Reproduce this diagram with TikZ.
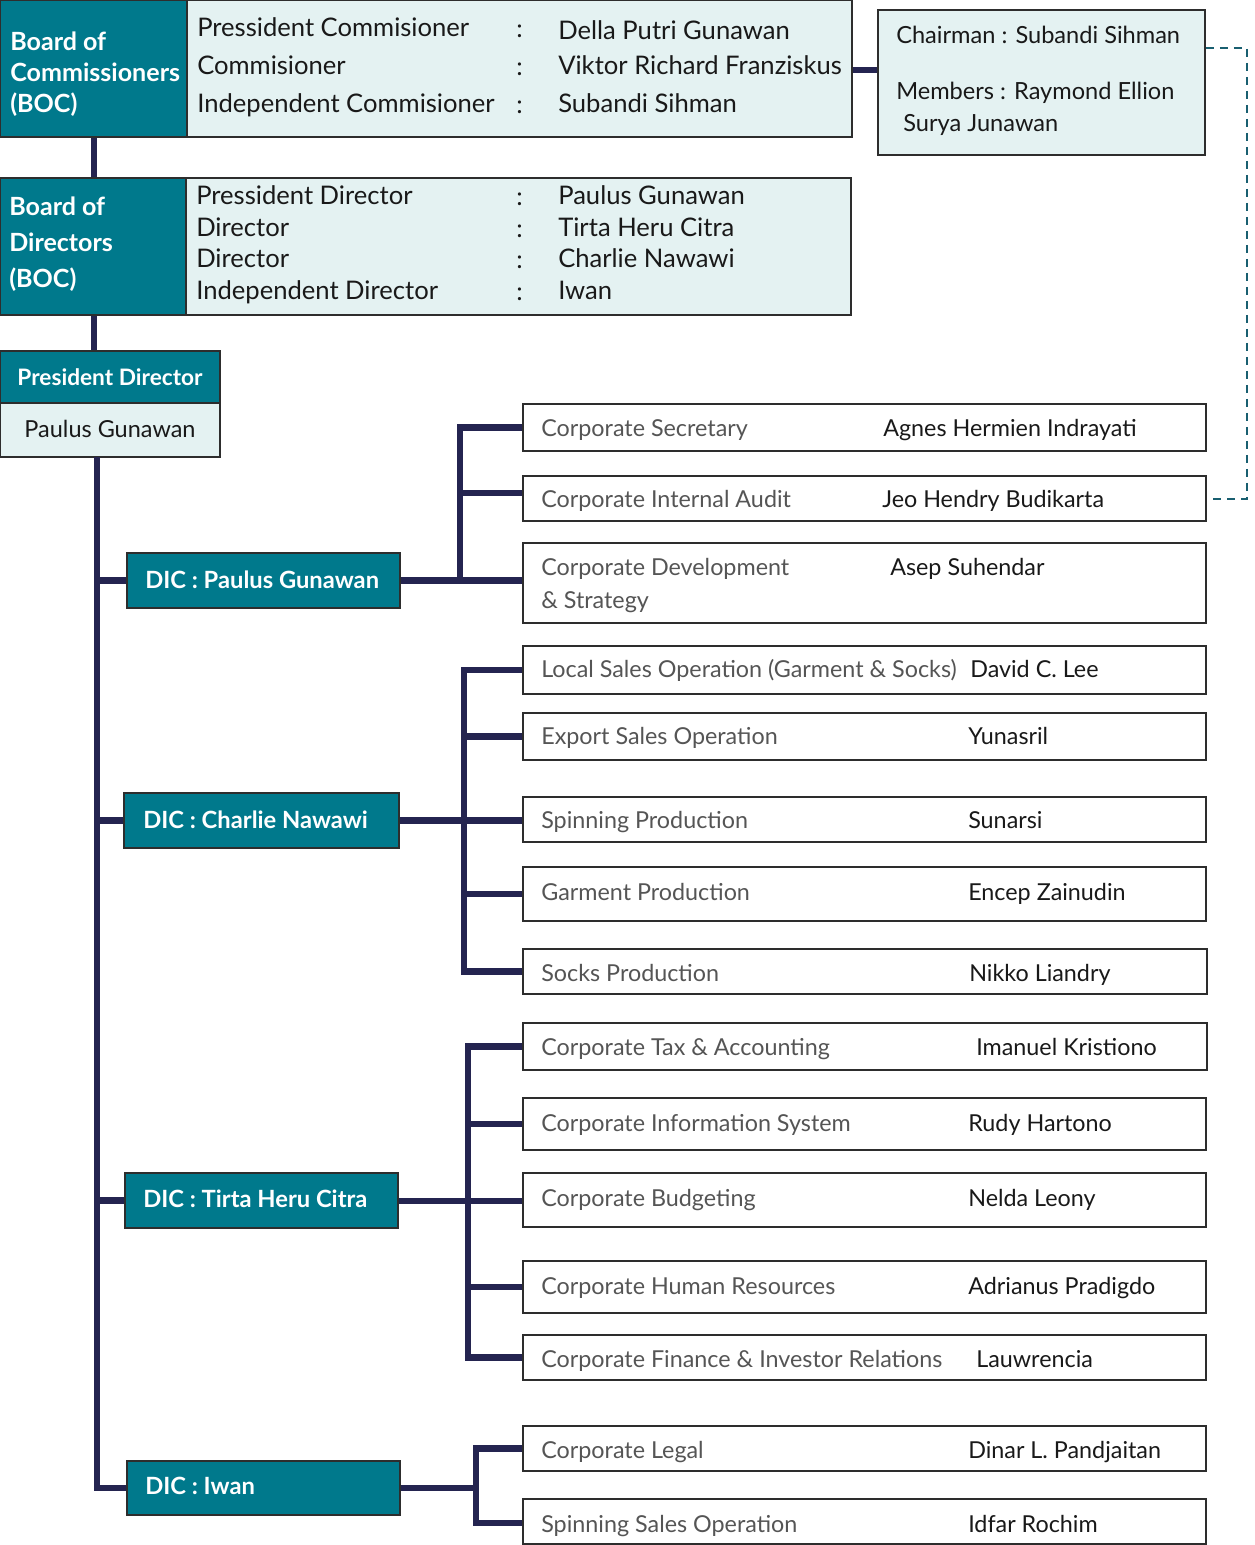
\documentclass[tikz,border=0pt]{standalone}
\usepackage{fontspec}
\setmainfont{Lato}
\usetikzlibrary{fit}
\definecolor{tealc}{RGB}{0,121,140}
\definecolor{lightc}{RGB}{228,242,242}
\definecolor{linec}{RGB}{36,36,80}
\definecolor{borderc}{RGB}{45,45,45}
\definecolor{dashc}{RGB}{25,95,112}
\definecolor{grayt}{RGB}{85,85,85}
\definecolor{darkt}{RGB}{25,25,25}
\tikzset{
  boxbase/.style={inner sep=0pt, draw=borderc, line width=1.3pt},
  tealbox/.style={boxbase, fill=tealc},
  lightbox/.style={boxbase, fill=lightc},
  whitebox/.style={boxbase, fill=white},
  conn/.style={draw=linec, line width=4.6pt},
  dashconn/.style={draw=dashc, line width=1.5pt, dash pattern=on 6pt off 4.5pt},
  rowtxt/.style={anchor=mid west, inner sep=0pt, text=darkt, font=\fontsize{19.2}{23}\selectfont},
  boardtxt/.style={anchor=west, inner sep=0pt, text=white, align=left},
  cmtxt/.style={anchor=mid west, inner sep=0pt, text=darkt, font=\fontsize{17.7}{21}\selectfont},
  dictxt/.style={anchor=west, inner sep=0pt, text=white, font=\bfseries\fontsize{17.8}{21}\selectfont},
  lbl/.style={anchor=mid west, inner sep=0pt, text=grayt, font=\fontsize{17.5}{21}\selectfont},
  nm/.style={anchor=mid west, inner sep=0pt, text=darkt, font=\fontsize{17.5}{21}\selectfont},
}
\begin{document}
\begin{tikzpicture}[x=0.75pt, y=-0.75pt]
\useasboundingbox (0,0) rectangle (1255,1545);

% ---------- Board of Commissioners ----------
\node[tealbox, fit={(0,0) (187,137)}] (bocL) {};
\node[lightbox, fit={(187,0) (852,137)}] (bocR) {};
\node[boardtxt, font=\bfseries\fontsize{18.8}{23.25}\selectfont] (bocT) at (10,74) {Board of\\Commissioners\\(BOC)};
\node[rowtxt] (bc1) at (197,33) {Pressident Commisioner};
\node[rowtxt] (bc1c) at (516,34) {:};
\node[rowtxt] (bc1n) at (558,36) {Della Putri Gunawan};
\node[rowtxt] (bc2) at (197,71) {Commisioner};
\node[rowtxt] (bc2c) at (516,72) {:};
\node[rowtxt] (bc2n) at (558,71) {Viktor Richard Franziskus};
\node[rowtxt] (bc3) at (197,109) {Independent Commisioner};
\node[rowtxt] (bc3c) at (516,110) {:};
\node[rowtxt] (bc3n) at (558,109) {Subandi Sihman};

% ---------- Committee ----------
\node[lightbox, fit={(878,10) (1205,155)}] (cm) {};
\node[cmtxt] (cm1) at (896,40) {Chairman : Subandi Sihman};
\node[cmtxt] (cm2) at (896,96) {Members : Raymond Ellion};
\node[cmtxt] (cm3) at (903,128) {Surya Junawan};

% ---------- Board of Directors ----------
\node[tealbox, fit={(0,178) (186,315)}] (bodL) {};
\node[lightbox, fit={(186,178) (851,315)}] (bodR) {};
\node[boardtxt, font=\bfseries\fontsize{18.8}{27}\selectfont] (bodT) at (9,244) {Board of\\Directors\\(BOC)};
\node[rowtxt] (bd1) at (196,201) {Pressident Director};
\node[rowtxt] (bd1c) at (516,202) {:};
\node[rowtxt] (bd1n) at (558,201) {Paulus Gunawan};
\node[rowtxt] (bd2) at (196,233) {Director};
\node[rowtxt] (bd2c) at (516,234) {:};
\node[rowtxt] (bd2n) at (558,233) {Tirta Heru Citra};
\node[rowtxt] (bd3) at (196,264) {Director};
\node[rowtxt] (bd3c) at (516,265) {:};
\node[rowtxt] (bd3n) at (558,264) {Charlie Nawawi};
\node[rowtxt] (bd4) at (196,296) {Independent Director};
\node[rowtxt] (bd4c) at (516,297) {:};
\node[rowtxt] (bd4n) at (558,296) {Iwan};

% ---------- President Director ----------
\node[tealbox, fit={(0,351) (220,403)}] (pdT) {};
\node[lightbox, fit={(0,403) (220,457)}] (pdB) {};
\node[text=white, font=\bfseries\fontsize{17}{20}\selectfont, inner sep=0pt] (pdt1) at (110,377) {President Director};
\node[text=darkt, font=\fontsize{17.6}{20}\selectfont, inner sep=0pt] (pdt2) at (110,429) {Paulus Gunawan};

% ---------- DIC boxes ----------
\node[tealbox, fit={(127,553) (400,608)}] (dicP) {};
\node[dictxt] at (145,580) {DIC : Paulus Gunawan};
\node[tealbox, fit={(124,793) (399,848)}] (dicC) {};
\node[dictxt] at (143,820) {DIC : Charlie Nawawi};
\node[tealbox, fit={(125,1173) (398,1228)}] (dicT) {};
\node[dictxt] at (143,1199) {DIC : Tirta Heru Citra};
\node[tealbox, fit={(127,1461) (400,1515)}] (dicI) {};
\node[dictxt] at (145,1486) {DIC : Iwan};

% ---------- Group 1 ----------
\node[whitebox, fit={(523,404) (1206,451)}] (g1a) {};
\node[lbl] at (541,433) {Corporate Secretary};
\node[nm] at (883,433) {Agnes Hermien Indrayati};
\node[whitebox, fit={(523,476) (1206,521)}] (g1b) {};
\node[lbl] at (541,504) {Corporate Internal Audit};
\node[nm] at (882,504) {Jeo Hendry Budikarta};
\node[whitebox, fit={(523,543) (1206,623)}] (g1c) {};
\node[lbl] at (541,572) {Corporate Development};
\node[lbl] at (541,605) {\& Strategy};
\node[nm] at (890,572) {Asep Suhendar};

% ---------- Group 2 ----------
\node[whitebox, fit={(523,646) (1206,694)}] (g2a) {};
\node[lbl] at (541,674) {Local Sales Operation (Garment \& Socks)};
\node[nm] at (970,674) {David C. Lee};
\node[whitebox, fit={(523,713) (1206,760)}] (g2b) {};
\node[lbl] at (541,741) {Export Sales Operation};
\node[nm] at (968,741) {Yunasril};
\node[whitebox, fit={(523,797) (1206,842)}] (g2c) {};
\node[lbl] at (541,825) {Spinning Production};
\node[nm] at (968,825) {Sunarsi};
\node[whitebox, fit={(523,867) (1206,921)}] (g2d) {};
\node[lbl] at (541,897) {Garment Production};
\node[nm] at (968,897) {Encep Zainudin};
\node[whitebox, fit={(523,949) (1207,994)}] (g2e) {};
\node[lbl] at (541,978) {Socks Production};
\node[nm] at (969,978) {Nikko Liandry};

% ---------- Group 3 ----------
\node[whitebox, fit={(523,1023) (1207,1070)}] (g3a) {};
\node[lbl] at (541,1052) {Corporate Tax \& Accounting};
\node[nm] at (976,1052) {Imanuel Kristiono};
\node[whitebox, fit={(523,1098) (1206,1150)}] (g3b) {};
\node[lbl] at (541,1128) {Corporate Information System};
\node[nm] at (968,1128) {Rudy Hartono};
\node[whitebox, fit={(523,1173) (1206,1227)}] (g3c) {};
\node[lbl] at (541,1203) {Corporate Budgeting};
\node[nm] at (968,1203) {Nelda Leony};
\node[whitebox, fit={(523,1261) (1206,1313)}] (g3d) {};
\node[lbl] at (541,1291) {Corporate Human Resources};
\node[nm] at (968,1291) {Adrianus Pradigdo};
\node[whitebox, fit={(523,1335) (1206,1380)}] (g3e) {};
\node[lbl] at (541,1364) {Corporate Finance \& Investor Relations};
\node[nm] at (976,1364) {Lauwrencia};

% ---------- Group 4 ----------
\node[whitebox, fit={(523,1426) (1206,1471)}] (g4a) {};
\node[lbl] at (541,1455) {Corporate Legal};
\node[nm] at (968,1455) {Dinar L. Pandjaitan};
\node[whitebox, fit={(523,1499) (1206,1544)}] (g4b) {};
\node[lbl] at (541,1529) {Spinning Sales Operation};
\node[nm] at (968,1529) {Idfar Rochim};

% ---------- Connectors ----------
\coordinate (trunkTop) at (97,457);
\coordinate (b1) at (460,0);
\coordinate (b2) at (464,0);
\coordinate (b3) at (468,0);
\coordinate (b4) at (476,0);

\draw[conn] (bocL.south -| 94,0) -- (bodL.north -| 94,0);
\draw[conn] (bodL.south -| 94,0) -- (pdT.north -| 94,0);
\draw[conn] (bocR.east |- 0,70) -- (cm.west |- 0,70);

\draw[conn] (trunkTop) |- (dicI.west);
\draw[conn] (trunkTop |- dicP.west) -- (dicP.west);
\draw[conn] (trunkTop |- dicC.west) -- (dicC.west);
\draw[conn] (trunkTop |- dicT.west) -- (dicT.west);

% group 1
\draw[conn] (dicP.east) -- (g1c.west |- dicP.east);
\draw[conn] (g1a.west) -- (b1 |- g1a.west) -- (b1 |- dicP.east);
\draw[conn] (b1 |- 0,493) -- (g1b.west |- 0,493);
% group 2
\draw[conn] (dicC.east) -- (g2c.west |- dicC.east);
\draw[conn] (g2a.west) -- (b2 |- g2a.west) -- (b2 |- g2e.west) -- (g2e.west);
\draw[conn] (b2 |- g2b.west) -- (g2b.west);
\draw[conn] (b2 |- g2d.west) -- (g2d.west);
% group 3
\draw[conn] (dicT.east |- 0,1201) -- (g3c.west |- 0,1201);
\draw[conn] (g3a.west) -- (b3 |- g3a.west) -- (b3 |- g3e.west) -- (g3e.west);
\draw[conn] (b3 |- g3b.west) -- (g3b.west);
\draw[conn] (b3 |- g3d.west) -- (g3d.west);
% group 4
\draw[conn] (dicI.east) -- (b4 |- dicI.east);
\draw[conn] (g4a.west) -- (b4 |- g4a.west) -- (b4 |- 0,1523) -- (g4b.west |- 0,1523);

% dashed link committee -> internal audit
\coordinate (dk) at (1247,48);
\draw[dashconn] (cm.east |- dk) -- (dk) |- (g1b.east);
\end{tikzpicture}
\end{document}
